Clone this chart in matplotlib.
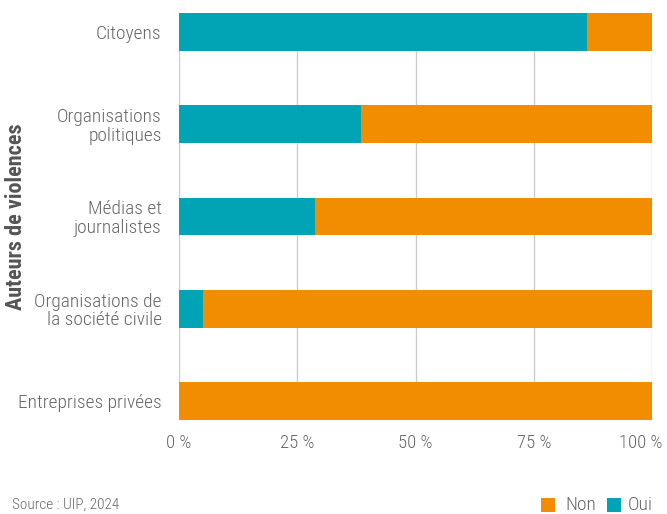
import matplotlib
matplotlib.use("Agg")
import matplotlib.pyplot as plt
import matplotlib.transforms as mtransforms
from matplotlib.patches import Rectangle

categories = ["Citoyens", "Organisations\npolitiques", "Médias et\njournalistes",
              "Organisations de\nla société civile", "Entreprises privées"]
oui = [86.3, 38.5, 28.8, 5.1, 0.0]
non = [100 - v for v in oui]
xticks = [0, 25, 50, 75, 100]
xtick_labels = ["0 %", "25 %", "50 %", "75 %", "100 %"]

plt.rcParams["font.family"] = ["Roboto Condensed", "DejaVu Sans"]

teal = "#00A4B5"
orange = "#F28C00"
grey = "#666666"

fig = plt.figure(figsize=(6.67, 5.14), dpi=100)
ax = fig.add_axes([179/667, 1 - 420/514, (652-179)/667, (420-13)/514])

y = list(range(len(categories)))
ax.barh(y, oui, height=0.41, color=teal, zorder=3)
ax.barh(y, non, left=oui, height=0.41, color=orange, zorder=3)
ax.set_ylim(4.205, -0.205)
ax.set_xlim(0, 100)
ax.set_xticks(xticks)
ax.set_xticklabels(xtick_labels, fontsize=13.5, color=grey, fontweight="light")
ax.set_yticks(y)
ax.set_yticklabels(categories, fontsize=14, color=grey, linespacing=1.05, fontweight="light")
ax.tick_params(axis="both", length=0)
ax.tick_params(axis="x", pad=10)
ax.tick_params(axis="y", pad=12.5)
ax.grid(axis="x", color="#cccccc", linewidth=1, zorder=0)
for s in ax.spines.values():
    s.set_visible(False)
ax.set_ylabel("Auteurs de violences", fontsize=16, fontweight="bold", color="#555555")
ax.yaxis.set_label_coords(-0.322, 0.5)

lab = ax.get_xticklabels()[-1]
lab.set_transform(lab.get_transform() + mtransforms.ScaledTranslation(-11/100, 0, fig.dpi_scale_trans))

fig.text(12/667, 1 - 505/514, "Source : UIP, 2024", fontsize=11, color=grey, va="center", ha="left",
         fontweight="light")

# legend
sq = 14
fig.patches.append(Rectangle((541/667, 1 - 512/514), sq/667, sq/514, transform=fig.transFigure,
                             facecolor=orange, edgecolor="none"))
fig.text(565/667, 1 - 505/514, "Non", fontsize=14, color=grey, va="center", ha="left", fontweight="light")
fig.patches.append(Rectangle((607/667, 1 - 512/514), sq/667, sq/514, transform=fig.transFigure,
                             facecolor=teal, edgecolor="none"))
fig.text(628/667, 1 - 505/514, "Oui", fontsize=14, color=grey, va="center", ha="left", fontweight="light")

fig.savefig("out.png", dpi=100)
